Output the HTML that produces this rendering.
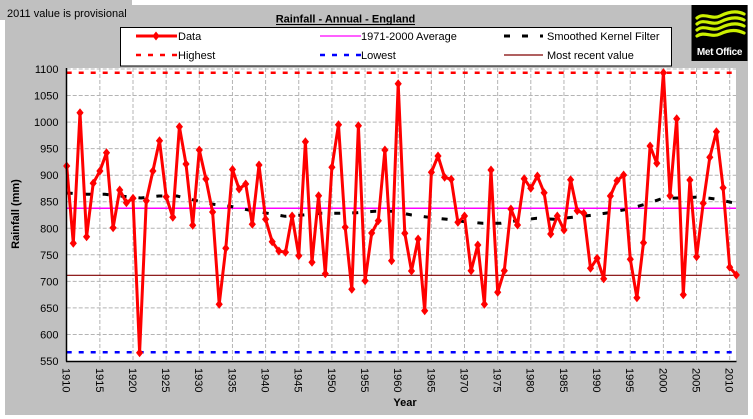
<!DOCTYPE html>
<html><head><meta charset="utf-8"><style>
html,body{margin:0;padding:0;background:#fff;}
svg{display:block;font-family:"Liberation Sans",Arial,sans-serif;}
</style></head><body>
<svg width="753" height="419" viewBox="0 0 753 419" xmlns="http://www.w3.org/2000/svg">
<defs>
<path id="dm" d="M0,-4.5 L3.6,0 L0,4.5 L-3.6,0Z" fill="#ff0000"/>
</defs>
<rect x="0" y="0" width="753" height="419" fill="#ffffff"/>
<rect x="5" y="5" width="743" height="410" fill="#c0c0c0"/>
<rect x="0" y="0" width="132" height="20" fill="#c0c0c0"/>
<text x="7" y="17" font-size="11" fill="#000">2011 value is provisional</text>
<text x="345.5" y="22.5" font-size="11" font-weight="bold" text-anchor="middle" fill="#000">Rainfall - Annual - England</text>
<line x1="276" y1="24.5" x2="415" y2="24.5" stroke="#000" stroke-width="1"/>

<!-- plot area -->
<rect x="66.5" y="68" width="669.5" height="293" fill="#ffffff"/>
<g stroke="#b4b4b4" stroke-width="1" stroke-dasharray="4 2">
<line x1="66.7" y1="69" x2="736" y2="69"/>
<line x1="66.7" y1="95.5" x2="736" y2="95.5"/>
<line x1="66.7" y1="122.1" x2="736" y2="122.1"/>
<line x1="66.7" y1="148.6" x2="736" y2="148.6"/>
<line x1="66.7" y1="175.2" x2="736" y2="175.2"/>
<line x1="66.7" y1="201.7" x2="736" y2="201.7"/>
<line x1="66.7" y1="228.3" x2="736" y2="228.3"/>
<line x1="66.7" y1="254.8" x2="736" y2="254.8"/>
<line x1="66.7" y1="281.4" x2="736" y2="281.4"/>
<line x1="66.7" y1="307.9" x2="736" y2="307.9"/>
<line x1="66.7" y1="334.5" x2="736" y2="334.5"/>
<line x1="99.85" y1="68" x2="99.85" y2="361"/>
<line x1="133" y1="68" x2="133" y2="361"/>
<line x1="166.15" y1="68" x2="166.15" y2="361"/>
<line x1="199.3" y1="68" x2="199.3" y2="361"/>
<line x1="232.45" y1="68" x2="232.45" y2="361"/>
<line x1="265.6" y1="68" x2="265.6" y2="361"/>
<line x1="298.75" y1="68" x2="298.75" y2="361"/>
<line x1="331.9" y1="68" x2="331.9" y2="361"/>
<line x1="365.05" y1="68" x2="365.05" y2="361"/>
<line x1="398.2" y1="68" x2="398.2" y2="361"/>
<line x1="431.35" y1="68" x2="431.35" y2="361"/>
<line x1="464.5" y1="68" x2="464.5" y2="361"/>
<line x1="497.65" y1="68" x2="497.65" y2="361"/>
<line x1="530.8" y1="68" x2="530.8" y2="361"/>
<line x1="563.95" y1="68" x2="563.95" y2="361"/>
<line x1="597.1" y1="68" x2="597.1" y2="361"/>
<line x1="630.25" y1="68" x2="630.25" y2="361"/>
<line x1="663.4" y1="68" x2="663.4" y2="361"/>
<line x1="696.55" y1="68" x2="696.55" y2="361"/>
<line x1="729.7" y1="68" x2="729.7" y2="361"/>
</g>

<!-- reference lines -->
<line x1="66.7" y1="72.7" x2="736" y2="72.7" stroke="#ff0000" stroke-width="2.5" stroke-dasharray="5 7"/>
<line x1="66.7" y1="352.3" x2="736" y2="352.3" stroke="#0000ff" stroke-width="2.5" stroke-dasharray="5 7"/>
<line x1="66.7" y1="208.3" x2="736" y2="208.3" stroke="#ff00ff" stroke-width="1.5"/>
<line x1="66.7" y1="275.3" x2="736" y2="275.3" stroke="#800000" stroke-width="1.2"/>

<!-- smoothed -->
<polyline fill="none" stroke="#000" stroke-width="3" stroke-dasharray="6 12" points="66.7,193 86.7,194.3 105,194.3 122.7,196.3 141,198 159,196 177,196 195,200.3 213.3,204.3 231.3,206.5 250,210.3 267.7,213.3 285,216.3 302.7,215 320.7,213.3 340,213.3 356.7,212.7 375,211.3 392.7,211.3 411.7,215 429,217.3 447,219.3 465,221.7 482.7,223.3 500.7,223.3 518.7,220.3 536.7,218.3 554.3,219.3 572.5,217.3 591,215.3 608.7,212.7 627,209.3 645,204.3 662.7,198.3 681,198 699,197 717.7,199.3 736,203.5"/>

<!-- data -->
<polyline fill="none" stroke="#ff0000" stroke-width="3" stroke-linejoin="round" points="66.7,166 73.3,243.3 80,112.7 86.6,236.7 93.2,183.3 99.9,171 106.5,152.7 113.1,227.7 119.7,190 126.4,202.7 133,198.3 139.6,352.7 146.3,200.7 152.9,171 159.5,140.7 166.2,196.7 172.8,217.3 179.4,126.7 186,164 192.7,225.3 199.3,150 205.9,179 212.6,212 219.2,304.3 225.8,248.3 232.5,169.5 239.1,189 245.7,184 252.3,224.3 259,165 265.6,219.3 272.2,241.7 278.9,251 285.5,252.3 292.1,216 298.8,255.7 305.4,141.7 312,262.3 318.6,195.7 325.3,273.7 331.9,167.3 338.5,124.7 345.2,227.3 351.8,289.3 358.4,125.7 365.1,280.7 371.7,233 378.3,220.7 384.9,150 391.6,260.7 398.2,83.7 404.8,233.2 411.5,271 418.1,239 424.7,310.7 431.4,172.3 438,156 444.6,177.3 451.2,179.3 457.9,222.3 464.5,216 471.1,270.7 477.8,245 484.4,304.3 491,170 497.7,292.3 504.3,270.7 510.9,209 517.5,225 524.2,178.7 530.8,188.3 537.4,176 544.1,192.7 550.7,234 557.3,216 564,230 570.6,179.7 577.2,210.7 583.8,213.3 590.5,268.3 597.1,258.3 603.7,278.7 610.4,196 617,180.7 623.6,175 630.3,259.3 636.9,297.7 643.5,242.7 650.1,146 656.8,163.3 663.4,72.7 670,195.7 676.7,118.7 683.3,294.7 689.9,180 696.6,256.7 703.2,203.3 709.8,157.3 716.4,131.7 723.1,187.7 729.7,267.3 736.3,275"/>
<g>
<use href="#dm" x="66.7" y="166"/><use href="#dm" x="73.3" y="243.3"/><use href="#dm" x="80" y="112.7"/><use href="#dm" x="86.6" y="236.7"/><use href="#dm" x="93.2" y="183.3"/><use href="#dm" x="99.9" y="171"/><use href="#dm" x="106.5" y="152.7"/><use href="#dm" x="113.1" y="227.7"/><use href="#dm" x="119.7" y="190"/><use href="#dm" x="126.4" y="202.7"/><use href="#dm" x="133" y="198.3"/><use href="#dm" x="139.6" y="352.7"/><use href="#dm" x="146.3" y="200.7"/><use href="#dm" x="152.9" y="171"/><use href="#dm" x="159.5" y="140.7"/><use href="#dm" x="166.2" y="196.7"/><use href="#dm" x="172.8" y="217.3"/><use href="#dm" x="179.4" y="126.7"/><use href="#dm" x="186" y="164"/><use href="#dm" x="192.7" y="225.3"/><use href="#dm" x="199.3" y="150"/><use href="#dm" x="205.9" y="179"/><use href="#dm" x="212.6" y="212"/><use href="#dm" x="219.2" y="304.3"/><use href="#dm" x="225.8" y="248.3"/><use href="#dm" x="232.5" y="169.5"/><use href="#dm" x="239.1" y="189"/><use href="#dm" x="245.7" y="184"/><use href="#dm" x="252.3" y="224.3"/><use href="#dm" x="259" y="165"/><use href="#dm" x="265.6" y="219.3"/><use href="#dm" x="272.2" y="241.7"/><use href="#dm" x="278.9" y="251"/><use href="#dm" x="285.5" y="252.3"/><use href="#dm" x="292.1" y="216"/><use href="#dm" x="298.8" y="255.7"/><use href="#dm" x="305.4" y="141.7"/><use href="#dm" x="312" y="262.3"/><use href="#dm" x="318.6" y="195.7"/><use href="#dm" x="325.3" y="273.7"/><use href="#dm" x="331.9" y="167.3"/><use href="#dm" x="338.5" y="124.7"/><use href="#dm" x="345.2" y="227.3"/><use href="#dm" x="351.8" y="289.3"/><use href="#dm" x="358.4" y="125.7"/><use href="#dm" x="365.1" y="280.7"/><use href="#dm" x="371.7" y="233"/><use href="#dm" x="378.3" y="220.7"/><use href="#dm" x="384.9" y="150"/><use href="#dm" x="391.6" y="260.7"/><use href="#dm" x="398.2" y="83.7"/><use href="#dm" x="404.8" y="233.2"/><use href="#dm" x="411.5" y="271"/><use href="#dm" x="418.1" y="239"/><use href="#dm" x="424.7" y="310.7"/><use href="#dm" x="431.4" y="172.3"/><use href="#dm" x="438" y="156"/><use href="#dm" x="444.6" y="177.3"/><use href="#dm" x="451.2" y="179.3"/><use href="#dm" x="457.9" y="222.3"/><use href="#dm" x="464.5" y="216"/><use href="#dm" x="471.1" y="270.7"/><use href="#dm" x="477.8" y="245"/><use href="#dm" x="484.4" y="304.3"/><use href="#dm" x="491" y="170"/><use href="#dm" x="497.7" y="292.3"/><use href="#dm" x="504.3" y="270.7"/><use href="#dm" x="510.9" y="209"/><use href="#dm" x="517.5" y="225"/><use href="#dm" x="524.2" y="178.7"/><use href="#dm" x="530.8" y="188.3"/><use href="#dm" x="537.4" y="176"/><use href="#dm" x="544.1" y="192.7"/><use href="#dm" x="550.7" y="234"/><use href="#dm" x="557.3" y="216"/><use href="#dm" x="564" y="230"/><use href="#dm" x="570.6" y="179.7"/><use href="#dm" x="577.2" y="210.7"/><use href="#dm" x="583.8" y="213.3"/><use href="#dm" x="590.5" y="268.3"/><use href="#dm" x="597.1" y="258.3"/><use href="#dm" x="603.7" y="278.7"/><use href="#dm" x="610.4" y="196"/><use href="#dm" x="617" y="180.7"/><use href="#dm" x="623.6" y="175"/><use href="#dm" x="630.3" y="259.3"/><use href="#dm" x="636.9" y="297.7"/><use href="#dm" x="643.5" y="242.7"/><use href="#dm" x="650.1" y="146"/><use href="#dm" x="656.8" y="163.3"/><use href="#dm" x="663.4" y="72.7"/><use href="#dm" x="670" y="195.7"/><use href="#dm" x="676.7" y="118.7"/><use href="#dm" x="683.3" y="294.7"/><use href="#dm" x="689.9" y="180"/><use href="#dm" x="696.6" y="256.7"/><use href="#dm" x="703.2" y="203.3"/><use href="#dm" x="709.8" y="157.3"/><use href="#dm" x="716.4" y="131.7"/><use href="#dm" x="723.1" y="187.7"/><use href="#dm" x="729.7" y="267.3"/><use href="#dm" x="736.3" y="275"/>
</g>

<!-- axes -->
<line x1="66.5" y1="68" x2="66.5" y2="361.5" stroke="#000" stroke-width="1.5"/>
<line x1="66" y1="361.5" x2="736.5" y2="361.5" stroke="#000" stroke-width="1.5"/>

<!-- y labels -->
<g font-size="11" text-anchor="end" fill="#000">
<text x="58.5" y="73">1100</text>
<text x="58.5" y="99.5">1050</text>
<text x="58.5" y="126.1">1000</text>
<text x="58.5" y="152.6">950</text>
<text x="58.5" y="179.2">900</text>
<text x="58.5" y="205.7">850</text>
<text x="58.5" y="232.3">800</text>
<text x="58.5" y="258.8">750</text>
<text x="58.5" y="285.4">700</text>
<text x="58.5" y="311.9">650</text>
<text x="58.5" y="338.5">600</text>
<text x="58.5" y="365">550</text>
</g>

<!-- x labels -->
<g font-size="11" fill="#000">
<text transform="translate(62.6,368) rotate(90)">1910</text>
<text transform="translate(95.75,368) rotate(90)">1915</text>
<text transform="translate(128.9,368) rotate(90)">1920</text>
<text transform="translate(162.05,368) rotate(90)">1925</text>
<text transform="translate(195.2,368) rotate(90)">1930</text>
<text transform="translate(228.35,368) rotate(90)">1935</text>
<text transform="translate(261.5,368) rotate(90)">1940</text>
<text transform="translate(294.65,368) rotate(90)">1945</text>
<text transform="translate(327.8,368) rotate(90)">1950</text>
<text transform="translate(360.95,368) rotate(90)">1955</text>
<text transform="translate(394.1,368) rotate(90)">1960</text>
<text transform="translate(427.25,368) rotate(90)">1965</text>
<text transform="translate(460.4,368) rotate(90)">1970</text>
<text transform="translate(493.55,368) rotate(90)">1975</text>
<text transform="translate(526.7,368) rotate(90)">1980</text>
<text transform="translate(559.85,368) rotate(90)">1985</text>
<text transform="translate(593,368) rotate(90)">1990</text>
<text transform="translate(626.15,368) rotate(90)">1995</text>
<text transform="translate(659.3,368) rotate(90)">2000</text>
<text transform="translate(692.45,368) rotate(90)">2005</text>
<text transform="translate(725.6,368) rotate(90)">2010</text>
</g>

<text x="405" y="406" font-size="11" font-weight="bold" text-anchor="middle" fill="#000">Year</text>
<text transform="translate(19,214) rotate(-90)" font-size="11" font-weight="bold" text-anchor="middle" fill="#000">Rainfall (mm)</text>

<!-- legend -->
<rect x="120.5" y="27.5" width="551" height="38.5" fill="#ffffff" stroke="#000" stroke-width="1"/>
<line x1="136" y1="36" x2="177" y2="36" stroke="#ff0000" stroke-width="3"/>
<use href="#dm" x="156" y="36"/>
<text x="178" y="40" font-size="11" fill="#000">Data</text>
<line x1="136" y1="55" x2="177" y2="55" stroke="#ff0000" stroke-width="2.5" stroke-dasharray="5 7"/>
<text x="178" y="59" font-size="11" fill="#000">Highest</text>
<line x1="320" y1="36" x2="361" y2="36" stroke="#ff00ff" stroke-width="1.2"/>
<text x="361" y="40" font-size="11" fill="#000">1971-2000 Average</text>
<line x1="320" y1="55" x2="361" y2="55" stroke="#0000ff" stroke-width="2.5" stroke-dasharray="5 7"/>
<text x="361" y="59" font-size="11" fill="#000">Lowest</text>
<line x1="504" y1="36" x2="543" y2="36" stroke="#000" stroke-width="3" stroke-dasharray="6 12"/>
<text x="547" y="40" font-size="11" fill="#000">Smoothed Kernel Filter</text>
<line x1="504" y1="55" x2="543" y2="55" stroke="#800000" stroke-width="1.2"/>
<text x="547" y="59" font-size="11" fill="#000">Most recent value</text>

<!-- logo -->
<rect x="691.5" y="5" width="56" height="56" fill="#000"/>
<g fill="none" stroke="#ccf000" stroke-width="3.2" stroke-linecap="round">
<path d="M697,18 C704,12 712,20 720,16 S736,10 744,14"/>
<path d="M697,24 C704,18 712,26 720,22 S736,16 744,20"/>
<path d="M697,30 C704,24 712,32 720,28 S736,22 744,26"/>
<path d="M697,36 C704,31 712,38 720,34 S736,29 744,33"/>
</g>
<text x="719.5" y="55" font-size="10" font-weight="bold" text-anchor="middle" fill="#fff" letter-spacing="-0.3">Met Office</text>
</svg>
</body></html>
